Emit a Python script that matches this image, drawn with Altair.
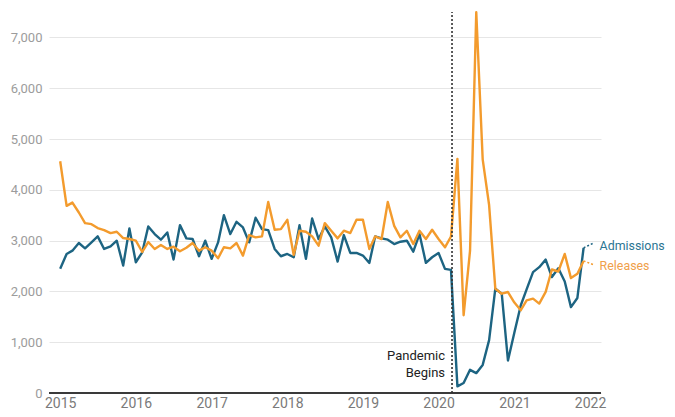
import altair as alt
import pandas as pd

# ---- data ----
months = pd.date_range("2015-01-01", "2021-12-01", freq="MS").strftime("%Y-%m-%d").tolist()

admissions = [
    2444, 2737, 2802, 2952, 2848, 2965, 3083, 2835, 2887, 2998, 2509, 3240,   # 2015
    2574, 2770, 3279, 3129, 3018, 3161, 2626, 3305, 3044, 3031, 2692, 2998,   # 2016
    2640, 2965, 3500, 3129, 3370, 3259, 2965, 3450, 3226, 3207, 2835, 2692,   # 2017
    2737, 2672, 3305, 2640, 3435, 3031, 3279, 3064, 2587, 3109, 2757, 2757,   # 2018
    2705, 2560, 3083, 3044, 3018, 2933, 2978, 2998, 2783, 3129, 2561, 2672,   # 2019
    2757, 2444, 2425, 130, 196, 456, 391, 553, 1040, 2053, 1955, 640,         # 2020
    1190, 1727, 2040, 2380, 2477, 2626, 2282, 2457, 2196, 1690, 1871, 2858,   # 2021
]

releases = [
    4562, 3683, 3748, 3553, 3344, 3324, 3246, 3207, 3148, 3174, 3050, 3031,   # 2015
    2998, 2776, 2972, 2835, 2913, 2835, 2880, 2790, 2860, 2952, 2802, 2868,   # 2016
    2802, 2653, 2868, 2848, 2952, 2705, 3109, 3064, 3083, 3761, 3213, 3226,   # 2017
    3409, 2718, 3194, 3174, 3083, 2900, 3344, 3194, 3044, 3194, 3148, 3409,   # 2018
    3409, 2835, 3083, 3031, 3761, 3291, 3064, 3194, 2933, 3194, 3031, 3213,   # 2019
    3031, 2868, 3080, 4609, 1531, 2802, 7495, 4600, 3700, 2053, 1955, 1988,   # 2020
    1780, 1629, 1825, 1858, 1760, 1990, 2431, 2392, 2737, 2262, 2346, 2600,   # 2021
]

series_names = ["Admissions", "Releases"]
series_colors = ["#1d6482", "#f39b2d"]
label_colors = ["#2b7593", "#f0a04a"]

y_ticks = [0, 1000, 2000, 3000, 4000, 5000, 6000, 7000]

pandemic_date = ["2020-03-06"]
pandemic_text = ["Pandemic", "Begins"]
pandemic_text_y = [735, 400]

label_y = [2890, 2500]
leader_start_y = [admissions[-1], releases[-1]]
leader_end_y = [2960, 2520]

# ---- tables ----
df = pd.DataFrame({
    "date": months * 2,
    "value": admissions + releases,
    "series": ["Admissions"] * len(months) + ["Releases"] * len(months),
})

font = "Roboto"

x_scale = alt.Scale(domain=[alt.DateTime(year=2014, month=11, date=8),
                            alt.DateTime(year=2022, month=2, date=23)])
y_scale = alt.Scale(domain=[0, 7500], nice=False)
color_scale = alt.Scale(domain=series_names, range=series_colors)

x_axis = alt.Axis(format="%Y", tickCount={"interval": "year", "step": 1},
                  grid=False, domain=False, ticks=False,
                  labelColor="#7a7a7a", labelFontSize=14, labelPadding=3,
                  labelFont=font)
y_axis = alt.Axis(values=y_ticks, format=",.0f", grid=True, gridColor="#e6e6e6",
                  domain=False, ticks=False, labelColor="#9c9c9c",
                  labelFontSize=13, labelPadding=7, labelFont=font)

lines = alt.Chart(df).mark_line(strokeWidth=2.4, strokeJoin="round").encode(
    x=alt.X("date:T", scale=x_scale, title=None, axis=x_axis),
    y=alt.Y("value:Q", scale=y_scale, title=None, axis=y_axis),
    color=alt.Color("series:N", scale=color_scale, legend=None),
)

baseline = alt.Chart(pd.DataFrame({"y": [0]})).mark_rule(
    color="#3a3a3a", strokeWidth=2).encode(
    y=alt.Y("y:Q", scale=y_scale, title=None, axis=y_axis))

pandemic_rule = alt.Chart(pd.DataFrame({
    "date": pandemic_date, "y0": [0], "y1": [7500]})).mark_rule(
    color="#333333", strokeWidth=1.6, strokeDash=[2, 2]).encode(
    x=alt.X("date:T", scale=x_scale, title=None, axis=x_axis),
    y=alt.Y("y0:Q", scale=y_scale, title=None, axis=y_axis), y2="y1:Q")

pandemic_label = alt.Chart(pd.DataFrame({
    "date": pandemic_date * 2, "y": pandemic_text_y, "text": pandemic_text})).mark_text(
    align="right", baseline="middle", dx=-7, fontSize=13, font=font, color="#222222").encode(
    x=alt.X("date:T", scale=x_scale, title=None, axis=x_axis),
    y=alt.Y("y:Q", scale=y_scale, title=None, axis=y_axis), text="text:N")

leaders = alt.Chart(pd.DataFrame({
    "x0": [months[-1]] * 2, "x1": ["2022-01-22"] * 2,
    "y0": leader_start_y, "y1": leader_end_y, "series": series_names})).mark_rule(
    strokeWidth=1.5, strokeDash=[2, 2]).encode(
    x=alt.X("x0:T", scale=x_scale, title=None, axis=x_axis), x2="x1:T",
    y=alt.Y("y0:Q", scale=y_scale, title=None, axis=y_axis), y2="y1:Q",
    color=alt.Color("series:N", scale=color_scale, legend=None))

end_labels = alt.Chart(pd.DataFrame({
    "x": ["2022-01-28"] * 2, "y": label_y, "series": series_names,
    "color": label_colors})).mark_text(
    align="left", baseline="middle", dx=4, fontSize=12.4, font=font).encode(
    x=alt.X("x:T", scale=x_scale, title=None, axis=x_axis),
    y=alt.Y("y:Q", scale=y_scale, title=None, axis=y_axis),
    text="series:N", color=alt.Color("color:N", scale=None))

chart = alt.layer(lines, baseline, pandemic_rule, pandemic_label, leaders, end_labels).properties(
    width=552, height=381,
    autosize=alt.AutoSizeParams(type="none"),
    padding={"left": 41, "top": 4, "right": 66, "bottom": 16},
).configure_view(stroke=None)

chart.save("out.html", embed_options={"renderer": "svg", "actions": False})
